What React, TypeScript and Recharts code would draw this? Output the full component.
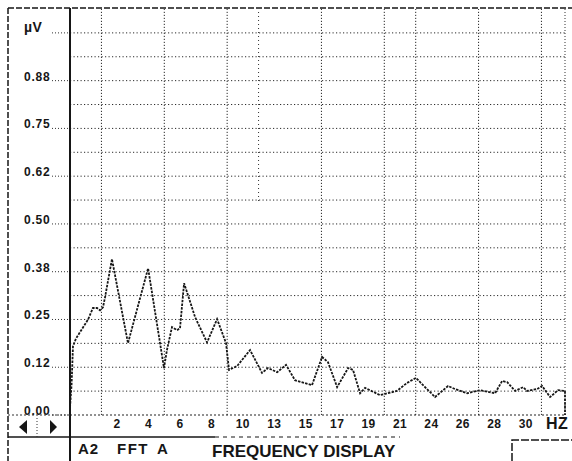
import { Line, LineChart, ReferenceLine, XAxis, YAxis } from 'recharts';

// FFT trace: frequency (Hz) and amplitude (µV)
const freqHz = [
  0, 0.1, 0.19, 0.38, 1.15, 1.46, 1.72, 1.91, 2.1, 2.23, 2.67, 3.69, 4.97, 5.73, 5.98,
  6.17, 6.49, 6.81, 7.0, 7.26, 7.96, 8.72, 9.36, 9.93, 10.12, 10.63, 11.46, 12.22,
  12.6, 13.18, 13.75, 14.32, 15.4, 16.04, 16.42, 17.0, 17.7, 18.01, 18.46, 18.78,
  19.73, 20.8, 21.45, 22.02, 22.47, 23.23, 24.06, 24.5, 25.27, 26.1, 27.05, 27.5,
  27.82, 28.33, 28.84, 29.09, 29.73, 30.04, 30.55, 31.06, 31.5, 31.5
];
const amplitude = [
  0.02, 0.08, 0.18, 0.2, 0.25, 0.28, 0.28, 0.274, 0.282, 0.308, 0.408, 0.188, 0.384,
  0.188, 0.123, 0.17, 0.23, 0.222, 0.227, 0.345, 0.256, 0.19, 0.251, 0.188, 0.118,
  0.128, 0.17, 0.11, 0.123, 0.112, 0.131, 0.091, 0.078, 0.152, 0.138, 0.073, 0.123,
  0.118, 0.057, 0.071, 0.052, 0.063, 0.084, 0.097, 0.078, 0.047, 0.076, 0.068, 0.057,
  0.065, 0.057, 0.089, 0.086, 0.063, 0.073, 0.063, 0.068, 0.076, 0.047, 0.065, 0.063, 0
];

const yTicks = [0, 0.125, 0.25, 0.375, 0.5, 0.625, 0.75, 0.875, 1];
const yTickLabels = ['0.00', '0.12', '0.25', '0.38', '0.50', '0.62', '0.75', '0.88', 'µV'];

const xTicks = [3, 5, 7, 9, 11, 13, 15, 17, 19, 21, 23, 25, 27, 29, 31];
const xTickLabels = ['2', '4', '6', '8', '10', '13', '15', '17', '19', '21', '24', '26', '28', '30', 'HZ'];

const gridUv = [
  0.0625, 0.125, 0.1875, 0.25, 0.3125, 0.375, 0.4375, 0.5, 0.5625, 0.625, 0.6875,
  0.75, 0.8125, 0.875, 0.9375, 1
];
const gridHz = [2, 6, 10, 16, 20, 22, 26, 30];
const tickRowHz = [6, 10, 16, 20, 22, 26, 30, 31.5];

const data = freqHz.map((hz, i) => ({ hz, uv: amplitude[i] }));

const ink = '#161616';
const font = '"Liberation Sans", Arial, sans-serif';

function YTick(props: any) {
  const { y, payload } = props;
  const i = yTicks.indexOf(payload.value);
  const isUnit = i === yTicks.length - 1;
  return (
    <text x={24} y={y} dy={isUnit ? -1 : 0} fill={ink} fontFamily={font} fontWeight={700}
      fontSize={isUnit ? 14 : 12} letterSpacing={isUnit ? 0.5 : 0.8} textAnchor='start'>
      {yTickLabels[i]}
    </text>
  );
}

function XTick(props: any) {
  const { x, y, payload } = props;
  const i = xTicks.indexOf(payload.value);
  const isUnit = xTickLabels[i] === 'HZ';
  return (
    <text x={x} y={y} dy={isUnit ? 14 : 13} fill={ink} fontFamily={font} fontWeight={700}
      fontSize={isUnit ? 16 : 12} letterSpacing={0.4} textAnchor='middle'>
      {xTickLabels[i]}
    </text>
  );
}

export default function FftDisplay() {
  return (
    <div style={{ position: 'absolute', left: 0, top: 0, width: 572, height: 461, overflow: 'hidden', background: '#fff' }}>
      <LineChart width={572} height={461} data={data}
        margin={{ top: 9, right: 7, bottom: 24, left: 0 }}>
        <XAxis xAxisId='grid' dataKey='hz' type='number' domain={[0, 31.5]} ticks={tickRowHz}
          height={0} axisLine={false} tick={false} tickSize={22}
          tickLine={{ stroke: '#333', strokeDasharray: '1 2' }} />
        <XAxis dataKey='hz' type='number' domain={[0, 31.5]} ticks={xTicks} interval={0}
          height={22} axisLine={false} tickLine={false} tickSize={0} tickMargin={0}
          tick={<XTick />} />
        <YAxis type='number' domain={[0, 1.0625]} ticks={yTicks} interval={0} width={70}
          axisLine={false} tickSize={18} tickMargin={0}
          tickLine={{ stroke: '#333', strokeDasharray: '1 2' }} tick={<YTick />} />
        {gridUv.map(v => (
          <ReferenceLine key={'h' + v} y={v} stroke='#2a2a2a' strokeDasharray='1.2 2.3' />
        ))}
        {gridHz.map(v => (
          <ReferenceLine key={'v' + v} x={v} stroke='#2a2a2a' strokeDasharray='1.2 1.8' />
        ))}
        <ReferenceLine segment={[{ x: 12, y: 0.56 }, { x: 12, y: 1.0625 }]} stroke='#333'
          strokeDasharray='1 3' />
        <ReferenceLine x={31.5} stroke='#333' strokeDasharray='1 2' />
        <ReferenceLine y={0} stroke='#222' strokeDasharray='2 2' />
        <Line type='linear' dataKey='uv' stroke={ink} strokeWidth={1.8} strokeDasharray='2.5 1.2'
          dot={false} isAnimationActive={false} />
      </LineChart>
      <svg width={572} height={461} style={{ position: 'absolute', left: 0, top: 0, pointerEvents: 'none' }}>
        <line x1={8} y1={8} x2={572} y2={8} stroke={ink} strokeWidth={1.5} strokeDasharray='6 2' />
        <line x1={8} y1={8} x2={8} y2={461} stroke={ink} strokeWidth={1.5} strokeDasharray='6 2' />
        <line x1={70} y1={8} x2={70} y2={461} stroke={ink} strokeWidth={2} />
        <line x1={8} y1={437} x2={215} y2={437} stroke={ink} strokeWidth={1.5} />
        <line x1={215} y1={437} x2={400} y2={437} stroke={ink} strokeWidth={1.2} strokeDasharray='4 4' />
        <line x1={8} y1={415} x2={70} y2={415} stroke='#333' strokeDasharray='2 2' />
        <path d='M512,461 V440 H572' fill='none' stroke={ink} strokeWidth={1.5} strokeDasharray='8 2' />
        <polygon points='19,427 27,420 27,434' fill={ink} />
        <polygon points='57,427 50,420 50,434' fill={ink} />
        <line x1={37} y1={418} x2={37} y2={437} stroke='#333' strokeDasharray='1 2' />
        <g fill={ink} fontFamily={font} fontWeight={700}>
          <text x={78} y={454} fontSize={15} letterSpacing={1}>A2</text>
          <text x={117} y={454} fontSize={15} letterSpacing={1.5} wordSpacing={3}>FFT A</text>
          <text x={212} y={457} fontSize={17}>FREQUENCY DISPLAY</text>
        </g>
      </svg>
    </div>
  );
}
